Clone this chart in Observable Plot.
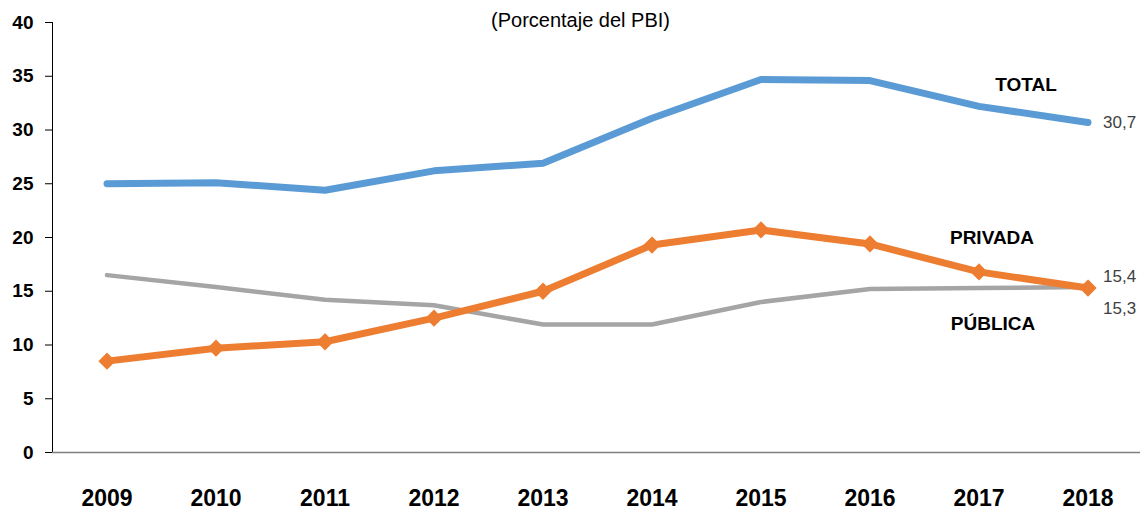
<!DOCTYPE html>
<html>
<head>
<meta charset="utf-8">
<script src="https://cdn.jsdelivr.net/npm/d3@7"></script>
<script src="https://cdn.jsdelivr.net/npm/@observablehq/plot@0.6"></script>
<style>
  body { margin: 0; background: #fff; }
  #chart svg { display: block; }
</style>
</head>
<body>
<div id="chart"></div>
<script>
const years = ["2009","2010","2011","2012","2013","2014","2015","2016","2017","2018"];
const total   = [25.0, 25.1, 24.4, 26.2, 26.9, 31.1, 34.7, 34.6, 32.2, 30.7];
const privada = [8.5, 9.7, 10.3, 12.5, 15.0, 19.3, 20.7, 19.4, 16.8, 15.3];
const publica = [16.5, 15.4, 14.2, 13.7, 11.9, 11.9, 14.0, 15.2, 15.3, 15.4];
const yTicks = [0, 5, 10, 15, 20, 25, 30, 35, 40];
const subtitle = "(Porcentaje del PBI)";

const seriesColors = {total: "#5B9BD5", privada: "#ED7D31", publica: "#A5A5A5"};
// series name labels: anchor (year, value) and horizontal offset
const nameLabels = [
  {name: "TOTAL",   year: "2017", value: 34.2, dx: 47},
  {name: "PRIVADA", year: "2017", value: 20.0, dx: 13},
  {name: "PÚBLICA", year: "2017", value: 12.0, dx: 14}
];
// end-of-line value labels
const endLabels = [
  {text: "30,7", year: "2018", value: 30.7, dy: 0},
  {text: "15,4", year: "2018", value: 15.4, dy: -10},
  {text: "15,3", year: "2018", value: 15.3, dy: 21}
];

const rows = (vals) => years.map((y, i) => ({year: y, value: vals[i]}));
const font = "'Liberation Sans', Arial, sans-serif";

const plot = Plot.plot({
  width: 1140,
  height: 509,
  marginTop: 22,
  marginLeft: 52,
  marginRight: 0,
  marginBottom: 57,
  style: {fontFamily: font, fontSize: "19px", background: "#fff", overflow: "visible"},
  x: {type: "point", domain: years, padding: 0.5, round: false, range: [52, 1142], label: null},
  y: {domain: [0, 40], label: null},
  marks: [
    Plot.frame({anchor: "left", stroke: "#000", strokeWidth: 1}),
    Plot.ruleY([0], {stroke: "#808080", strokeWidth: 1.5}),
    Plot.axisY({ticks: yTicks, tickSize: 7, tickPadding: 12, fontSize: 19, fontWeight: "bold", fill: "#000", label: null}),
    Plot.axisX({tickSize: 0, tickPadding: 37, fontSize: 23, fontWeight: "bold", fill: "#000", label: null}),
    Plot.lineY(rows(publica), {x: "year", y: "value", stroke: seriesColors.publica, strokeWidth: 4.5}),
    Plot.lineY(rows(total), {x: "year", y: "value", stroke: seriesColors.total, strokeWidth: 7, strokeLinecap: "round"}),
    Plot.lineY(rows(privada), {x: "year", y: "value", stroke: seriesColors.privada, strokeWidth: 7}),
    Plot.dot(rows(privada), {x: "year", y: "value", symbol: "diamond2", r: 6.5, fill: seriesColors.privada, stroke: seriesColors.privada, strokeWidth: 2}),
    ...nameLabels.map(d => Plot.text([d], {x: "year", y: "value", text: "name", dx: d.dx, fontSize: 19, fontWeight: "bold", fill: "#000"})),
    ...endLabels.map(d => Plot.text([d], {x: "year", y: "value", text: "text", dx: 15, dy: d.dy, textAnchor: "start", fontSize: 17, fill: "#404040"})),
    Plot.text([subtitle], {frameAnchor: "top", dx: -16, dy: -10, fontSize: 20, fill: "#000"})
  ]
});

document.getElementById("chart").appendChild(plot);
</script>
</body>
</html>
